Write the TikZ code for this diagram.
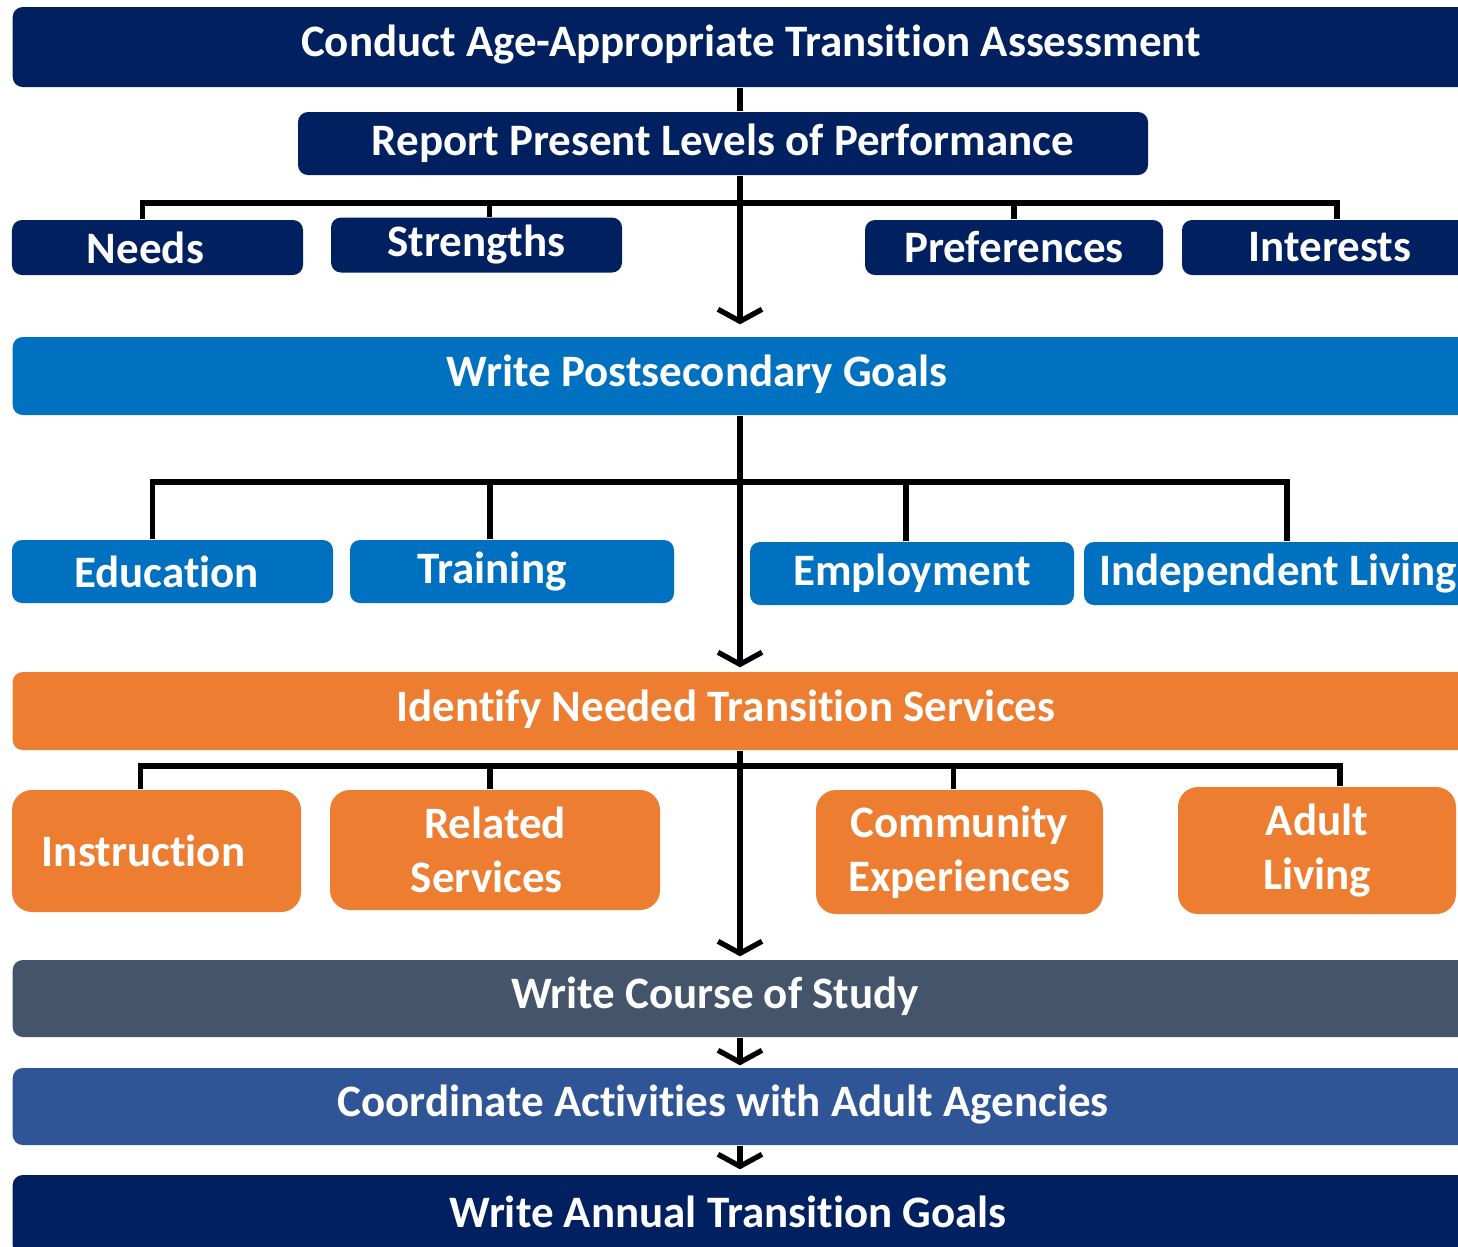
\documentclass[tikz,border=0pt]{standalone}
\usepackage{fontspec}
\setmainfont{Carlito}[Ligatures=NoCommon]
\usepackage{tikz}
\usetikzlibrary{arrows.meta}
\definecolor{tnavy}{RGB}{0, 32, 96}
\definecolor{tblue}{RGB}{0, 112, 192}
\definecolor{torange}{RGB}{237, 125, 49}
\definecolor{tslate}{RGB}{68, 84, 106}
\definecolor{tmid}{RGB}{47, 85, 151}

\tikzset{
  bar/.style={fill=#1, rounded corners=1mm, minimum width=14.9cm, anchor=west, inner sep=0pt},
  bartext/.style={text=white, font=\fontsize{12.8}{15.5}\selectfont\bfseries},
  item/.style={fill=#1, rounded corners=1mm, text=white, inner sep=0pt,
    font=\fontsize{12.8}{15.5}\selectfont\bfseries, align=center},
  link/.style={line width=1.5pt},
  flow/.style={link, -{Straight Barb[length=1.2mm, width=4.4mm, line width=1.5pt]}}
}

\begin{document}
\begin{tikzpicture}
\useasboundingbox (0,0) rectangle (14.58,-12.46);
\clip (0,0) rectangle (14.58,-12.46);
\coordinate (spine) at (7.40,0);

% Assessment and present levels
\node[bar=tnavy, minimum height=0.80cm] (assess) at (0.12,-0.47) {};
\node[bartext] (assesstxt) at (7.51,-0.45) {Conduct Age-Appropriate Transition Assessment};
\node[item=tnavy, minimum width=8.5cm, minimum height=0.63cm] (report) at (7.23,-1.435) {Report Present Levels of Performance};

\node[item=tnavy, minimum width=2.91cm, minimum height=0.55cm] (needs) at (1.575,-2.475) {Needs\hspace*{2.4mm}};
\node[item=tnavy, minimum width=2.91cm, minimum height=0.55cm] (strengths) at (4.765,-2.45) {Strengths};
\node[item=tnavy, minimum width=2.98cm, minimum height=0.55cm] (prefs) at (10.14,-2.475) {Preferences};
\node[item=tnavy, minimum width=2.96cm, minimum height=0.55cm] (interests) at (13.30,-2.475) {Interests};

% Postsecondary goals
\node[bar=tblue, minimum height=0.78cm] (goals) at (0.12,-3.76) {};
\node[bartext] (goalstxt) at (6.97,-3.74) {Write Postsecondary Goals};

\node[item=tblue, minimum width=3.21cm, minimum height=0.63cm] (edu) at (1.725,-5.715) {Education\hspace*{1.2mm}};
\node[item=tblue, minimum width=3.24cm, minimum height=0.63cm] (training) at (5.12,-5.715) {Training\hspace*{4mm}};
\node[item=tblue, minimum width=3.24cm, minimum height=0.63cm] (employ) at (9.12,-5.735) {Employment};
\node[item=tblue, minimum width=3.88cm, minimum height=0.63cm] (indep) at (12.78,-5.735) {Independent Living};

% Transition services
\node[bar=torange, minimum height=0.78cm] (services) at (0.12,-7.11) {};
\node[bartext] (servicestxt) at (7.26,-7.09) {Identify Needed Transition Services};

\node[item=torange, rounded corners=2mm, minimum width=2.89cm, minimum height=1.22cm] (instr) at (1.565,-8.51) {Instruction\hspace*{2.6mm}};
\node[item=torange, rounded corners=2mm, minimum width=3.30cm, minimum height=1.20cm] (related) at (4.95,-8.50) {Related\\Services\hspace*{1.6mm}};
\node[item=torange, rounded corners=2mm, minimum width=2.87cm, minimum height=1.24cm] (community) at (9.595,-8.52) {Community\\Experiences};
\node[item=torange, rounded corners=2mm, minimum width=2.78cm, minimum height=1.27cm] (adult) at (13.17,-8.505) {Adult\\Living};

% Remaining steps
\node[bar=tslate, minimum height=0.77cm] (study) at (0.12,-9.985) {};
\node[bartext] (studytxt) at (7.15,-9.965) {Write Course of Study};
\node[bar=tmid, minimum height=0.77cm] (agencies) at (0.12,-11.065) {};
\node[bartext] (agenciestxt) at (7.23,-11.045) {Coordinate Activities with Adult Agencies};
\node[bar=tnavy, minimum height=0.80cm] (annual) at (0.12,-12.15) {};
\node[bartext] (annualtxt) at (7.28,-12.12) {Write Annual Transition Goals};

% Spine
\draw[link] (assess.south -| spine) -- (report.north -| spine);
\draw[flow, shorten >=1.2mm] (report.south -| spine) -- (goals.north -| spine);
\draw[flow, shorten >=0.4mm] (goals.south -| spine) -- (services.north -| spine);
\draw[flow, shorten >=0.3mm] (services.south -| spine) -- (study.north -| spine);
\draw[flow, shorten >=0.2mm] (study.south -| spine) -- (agencies.north -| spine);
\draw[flow, shorten >=0.5mm] (agencies.south -| spine) -- (annual.north -| spine);

% Branches
\coordinate (fork1) at (7.40,-2.03);
\draw[link] ([xshift=-1.5mm]needs.north) |- (fork1) -| ([xshift=0.7mm]interests.north);
\draw[link] ([xshift=1.3mm]strengths.north) |- (fork1);
\draw[link] (prefs.north) |- (fork1);

\coordinate (fork2) at (7.40,-4.82);
\draw[link] ([xshift=-2mm]edu.north) |- (fork2) -| ([xshift=0.9mm]indep.north);
\draw[link] ([xshift=-2.2mm]training.north) |- (fork2);
\draw[link] ([xshift=-0.6mm]employ.north) |- (fork2);

\coordinate (fork3) at (7.40,-7.66);
\draw[link] ([xshift=-1.6mm]instr.north) |- (fork3) -| ([xshift=2.3mm]adult.north);
\draw[link] ([xshift=-0.5mm]related.north) |- (fork3);
\draw[link] ([xshift=-0.6mm]community.north) |- (fork3);
\end{tikzpicture}
\end{document}
